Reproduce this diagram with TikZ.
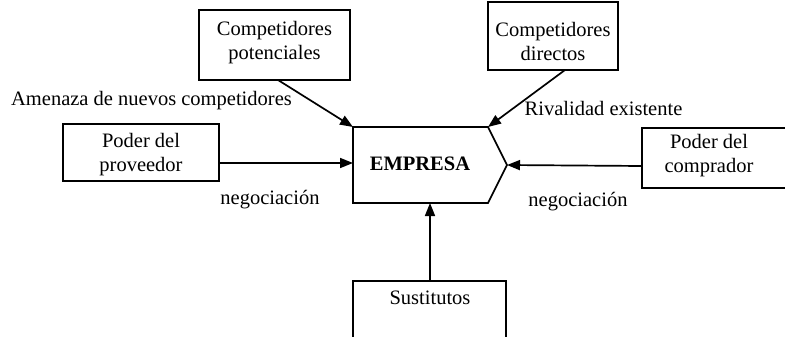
\documentclass[tikz,border=0pt]{standalone}
\usepackage{fontspec}
\setmainfont{Liberation Serif}
\usetikzlibrary{arrows.meta}
\begin{document}
\begin{tikzpicture}[x=1pt,y=1pt,
  every node/.style={font=\fontsize{20.5}{24}\selectfont, align=center, inner sep=0pt},
  box/.style={draw, line width=1.7pt, rectangle},
  edge/.style={line width=1.7pt, line join=miter},
  conn/.style={line width=1.7pt, -{Triangle[length=13pt,width=10pt]}},
  lbl/.style={anchor=center}]
\useasboundingbox (0,0) rectangle (785,-337);
% boxes
\node[box, minimum width=151, minimum height=70] (pot) at (274.5,-45) {};
\node (pott) at (274.5,-42.5) {Competidores\\potenciales};
\node[box, minimum width=130, minimum height=68] (dir) at (553,-36) {};
\node (dirt) at (553,-41) {Competidores\\directos};
\node[box, minimum width=156, minimum height=57] (prov) at (141,-152.5) {};
\node (provt) at (141,-155) {Poder del\\proveedor};
% comprador box (runs off the right edge)
\coordinate (cnw) at (642,-128);
\coordinate (csw) at (642,-188);
\draw[edge] (785,-128) -- (cnw) -- (csw) -- (785,-188);
\node (comp) at (709,-155.5) {Poder del\\comprador};
% sustitutos box (runs off the bottom edge)
\coordinate (snw) at (353,-281);
\coordinate (sne) at (506,-281);
\draw[edge] (353,-337) -- (snw) -- (sne) -- (506,-337);
\node (sust) at (430,-298) {Sustitutos};
% empresa
\coordinate (etl) at (353,-127);
\coordinate (etr) at (488,-127);
\coordinate (etip) at (507,-165);
\coordinate (ebr) at (488,-203);
\coordinate (ebl) at (353,-203);
\draw[edge] (etl) -- (etr) -- (etip) -- (ebr) -- (ebl) -- cycle;
\node (emp) at (420,-164) {\textbf{EMPRESA}};
\coordinate (ebot) at (430,-203);
\coordinate (eleft) at (353,-163);
% connectors
\draw[conn] (278,-80) -- (etl);
\draw[conn] (565,-70) -- (etr);
\draw[conn] (prov.east |- eleft) -- (eleft);
\draw[conn] (cnw |- 0,-166) -- (etip);
\draw[conn] (snw -| ebot) -- (ebot);
% labels
\node[lbl] (l1) at (151.5,-101) {Amenaza de nuevos competidores};
\node[lbl] (l2) at (603.5,-108) {Rivalidad existente};
\node[lbl] (l3) at (270,-200) {negociación};
\node[lbl] (l4) at (578,-202) {negociación};
\end{tikzpicture}
\end{document}
